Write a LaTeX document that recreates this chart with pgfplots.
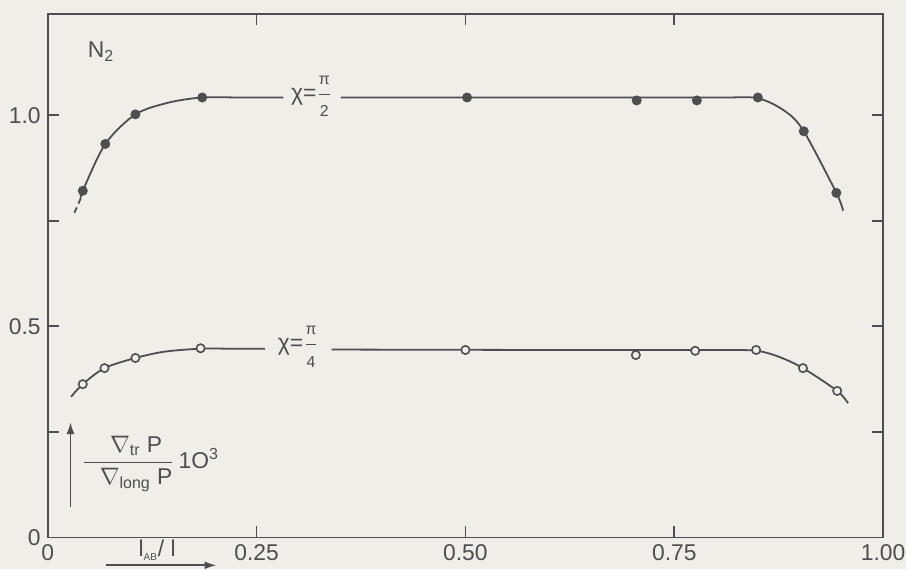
\documentclass[border=0pt]{standalone}
\usepackage{pgfplots}
\pgfplotsset{compat=1.18}
\usetikzlibrary{arrows.meta}
\usepackage{fontspec}
\setmainfont{Liberation Sans}
\definecolor{paper}{RGB}{239,238,233}
\definecolor{ink}{RGB}{78,78,78}
\newcommand{\pifrac}[1]{$\displaystyle\frac{\hbox{\footnotesize π}}{\hbox{\footnotesize #1}}$}
\begin{document}
\begin{tikzpicture}
\fill[paper] (-24pt,-16pt) rectangle (432pt,270.5pt);
\begin{axis}[
  at={(0pt,0pt)}, anchor=south west,
  scale only axis, width=420.5pt, height=263.5pt,
  xmin=0, xmax=1.0, ymin=0, ymax=1.24,
  clip=false,
  axis line style={ink, line width=0.9pt},
  tick style={ink, line width=0.9pt},
  major tick length=5.5pt,
  tick align=inside,
  xtick={0,0.25,0.5,0.75,1.0},
  xticklabels={0,0.25,0.50,0.75,1.00},
  ytick={0,0.25,0.5,0.75,1.0},
  yticklabels={0,,0.5,,1.0},
  ticklabel style={font=\fontsize{11.5}{13}\selectfont, text=ink},
]
% chi = pi/2 (N2)
\addplot[ink, line width=0.9pt, dashed, dash pattern=on 3pt off 2pt] coordinates {(0.032,0.769) (0.040,0.805)};
\addplot[ink, line width=0.9pt, smooth] coordinates {
 (0.040,0.805) (0.042,0.821) (0.069,0.932) (0.105,1.002) (0.145,1.030) (0.185,1.042) (0.230,1.042) (0.282,1.042)};
\addplot[ink, line width=0.9pt, smooth] coordinates {
 (0.351,1.042) (0.60,1.042) (0.80,1.042) (0.850,1.040) (0.883,1.009) (0.905,0.962) (0.944,0.816) (0.952,0.774)};
\addplot[only marks, mark=*, mark size=2.3pt, ink, mark options={fill=ink, draw=ink}] coordinates {
 (0.042,0.821) (0.069,0.932) (0.105,1.002) (0.185,1.042) (0.502,1.042) (0.705,1.035) (0.777,1.035) (0.850,1.042) (0.905,0.962) (0.944,0.816)};
% chi = pi/4
\addplot[ink, line width=0.9pt, smooth] coordinates {
 (0.028,0.333) (0.042,0.363) (0.068,0.401) (0.105,0.425) (0.140,0.440) (0.183,0.447) (0.220,0.447) (0.260,0.447)};
\addplot[ink, line width=0.9pt, smooth] coordinates {
 (0.340,0.445) (0.60,0.444) (0.80,0.444) (0.848,0.442) (0.875,0.428) (0.904,0.401) (0.945,0.347) (0.958,0.318)};
\addplot[only marks, mark=*, mark size=2.1pt, ink, mark options={fill=paper, draw=ink, line width=0.8pt}] coordinates {
 (0.042,0.363) (0.068,0.401) (0.105,0.425) (0.183,0.448) (0.500,0.444) (0.704,0.432) (0.775,0.442) (0.848,0.444) (0.904,0.401) (0.945,0.347)};
% labels
\node[text=ink, font=\fontsize{11.5}{13}\selectfont] at (axis cs:0.064,1.15) {N\textsubscript{2}};
\node[text=ink, font=\fontsize{11.5}{13}\selectfont] at (axis cs:0.316,1.045) {χ=\pifrac{2}};
\node[text=ink, font=\fontsize{11.5}{13}\selectfont] at (axis cs:0.300,0.452) {χ=\pifrac{4}};
\node[text=ink, font=\fontsize{11.5}{13}\selectfont, anchor=west, inner sep=0pt] at (axis cs:0.040,0.174)
  {$\displaystyle\frac{\hbox{\kern8pt$\nabla$\textsubscript{tr} P}}{\hbox{\kern8pt$\nabla$\textsubscript{long} P}}$\,1O\textsuperscript{3}};
\draw[ink, line width=0.9pt, -{Latex[length=6pt,width=4pt]}] (axis cs:0.0273,0.073) -- (axis cs:0.0273,0.273);
\node[text=ink, font=\fontsize{11.5}{13}\selectfont] at (axis cs:0.131,-0.030) {l\textsubscript{\tiny AB}/ l};
\draw[ink, line width=0.9pt, -{Latex[length=6pt,width=4pt]}] (axis cs:0.070,-0.066) -- (axis cs:0.202,-0.066);
\end{axis}
\end{tikzpicture}
\end{document}
